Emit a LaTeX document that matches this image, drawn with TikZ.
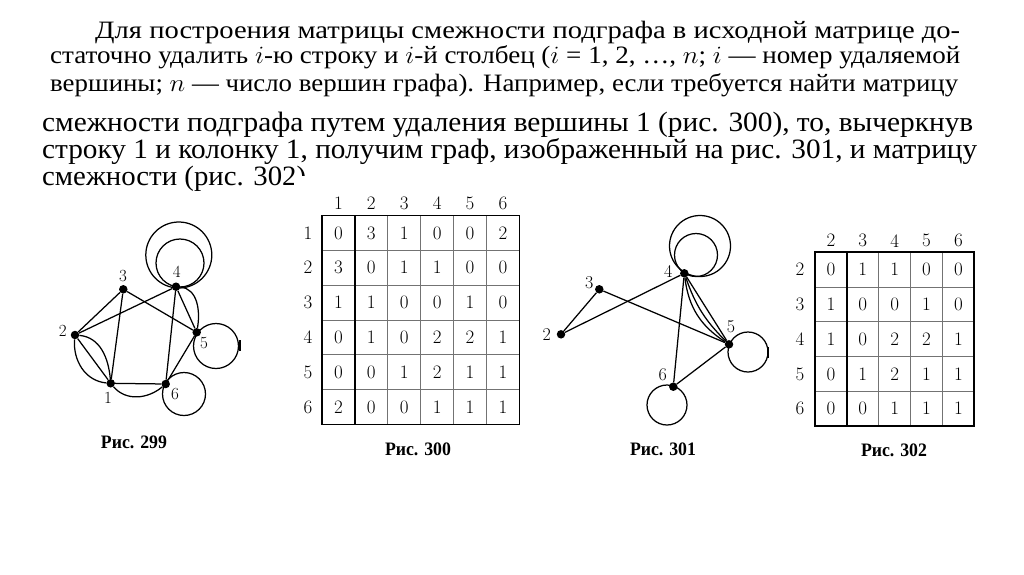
\documentclass[tikz,border=0pt]{standalone}
\usepackage{fontspec}
\usepackage{graphicx}
\newfontfamily\pa{Liberation Serif}
\newfontfamily\cf{Liberation Serif}
\tikzset{
  vtx/.style={circle,fill=black,inner sep=0pt,minimum size=8.5pt},
  edge/.style={line width=1.25pt},
  lbl/.style={font=\fontsize{17}{17}\selectfont,inner sep=0pt},
  lblb/.style={font=\fontsize{18}{18}\selectfont,inner sep=0pt},
  cell/.style={font=\fontsize{19}{19}\selectfont,inner sep=0pt},
  figcap/.style={inner sep=0pt},
  txt/.style={anchor=base west,inner sep=0pt},
  thickrule/.style={line width=1.8pt},
  thinrule/.style={line width=0.7pt,black!55},
}
\newcommand{\capt}[1]{\resizebox{66pt}{\height}{\cf\bfseries\fontsize{19}{19}\selectfont #1}}
\begin{document}
\begin{tikzpicture}[x=1pt,y=1pt]
\useasboundingbox (0,0) rectangle (1024,-574);
\fill[white] (0,0) rectangle (1024,-574);

% ---- text ----
\node[txt] (l1) at (95,-38) {\resizebox{865pt}{\height}{\pa\fontsize{25}{25}\selectfont Для построения матрицы смежности подграфа в исходной матрице до-}};
\node[txt] (l2) at (50,-63.5) {\resizebox{910pt}{\height}{\pa\fontsize{25}{25}\selectfont статочно удалить $i$-ю строку и $i$-й столбец ($i$ = 1, 2, …, $n$; $i$ — номер удаляемой}};
\node[txt] (l3) at (50,-91.5) {\resizebox{908pt}{\height}{\pa\fontsize{25}{25}\selectfont вершины; $n$ — число вершин графа). Например, если требуется найти матрицу}};
\node[txt] (l4) at (42,-131.5) {\resizebox{931pt}{\height}{\pa\fontsize{28}{28}\selectfont смежности подграфа путем удаления вершины 1 (рис. 300), то, вычеркнув}};
\node[txt] (l5) at (42,-158.5) {\resizebox{935pt}{\height}{\pa\fontsize{28}{28}\selectfont строку 1 и колонку 1, получим граф, изображенный на рис. 301, и матрицу}};
\node[txt] (l6) at (42,-185) {\resizebox{264pt}{\height}{\pa\fontsize{28}{28}\selectfont смежности (рис. 302)}};
\fill[white] (294,-176) rectangle (320,-196);

% ---- Fig 299 ----
\node[vtx] (a1) at (110.7,-383.3) {};
\node[vtx] (a2) at (75,-335) {};
\node[vtx] (a3) at (123.3,-289.3) {};
\node[vtx] (a4) at (176,-286.7) {};
\node[vtx] (a5) at (196.7,-332.3) {};
\node[vtx] (a6) at (165.7,-384) {};
\node[lbl] (la1) at (108,-398) {1};
\node[lbl] (la2) at (62.7,-331) {2};
\node[lbl] (la3) at (123,-276) {3};
\node[lbl] (la4) at (176.7,-272) {4};
\node[lbl] (la5) at (204,-343) {5};
\node[lbl] (la6) at (175,-394) {6};
\draw[edge] (a2) -- (a1);
\draw[edge] (a2) to[out=-95,in=175] (a1);
\draw[edge] (a2) to[out=-5,in=95] (a1);
\draw[edge] (a1) -- (a3);
\draw[edge] (a1) -- (a6);
\draw[edge] (a1) to[out=-50,in=-140] (a6);
\draw[edge] (a2) -- (a3);
\draw[edge] (a2) -- (a4);
\draw[edge] (a3) -- (a5);
\draw[edge] (a4) -- (a5);
\draw[edge] (a4) to[out=-5,in=80] (a5);
\draw[edge] (a4) -- (a6);
\draw[edge] (a5) -- (a6);
\draw[edge] (178.8,-255) circle (33);
\draw[edge] (180,-263) circle (24);
\draw[edge] (216,-346) circle (22.5);
\draw[edge] (184,-394) circle (21.5);
\draw[line width=1.5pt] (240,-340) -- (240,-351);
\node[figcap] (c299) at (134,-442) {\capt{Рис. 299}};

% ---- Fig 300 ----
\foreach \h [count=\c] in {1,...,6} {
  \node[cell] (h300c\c) at ({322+(\c-0.5)*32.9},-203.5) {\h};
  \node[cell] (h300r\c) at (308,{-215.5-(\c-0.5)*34.8}) {\h};
}
\foreach \row [count=\r] in {{0,3,1,0,0,2},{3,0,1,1,0,0},{1,1,0,0,1,0},{0,1,0,2,2,1},{0,0,1,2,1,1},{2,0,0,1,1,1}} {
  \foreach \v [count=\c] in \row {
    \node[cell] (m300-\r-\c) at ({322+(\c-0.5)*32.9},{-215.5-(\r-0.5)*34.8}) {\v};
  }
}
\foreach \i in {2,...,5} {
  \draw[thinrule] ({322+\i*32.9},-215.5) -- ({322+\i*32.9},-424.5);
}
\foreach \i in {1,...,5} {
  \draw[thinrule] (322,{-215.5-\i*34.8}) -- (519.4,{-215.5-\i*34.8});
}
\draw[thickrule] (354.9,-215.5) -- (354.9,-424.5);
\draw[thickrule] (322,-215.5) rectangle (519.4,-424.5);
\node[figcap] (c300) at (418,-449) {\capt{Рис. 300}};

% ---- Fig 301 ----
\node[vtx] (b2) at (561,-334.3) {};
\node[vtx] (b3) at (599.3,-289.3) {};
\node[vtx] (b4) at (684.3,-273.3) {};
\node[vtx] (b5) at (729,-344.3) {};
\node[vtx] (b6) at (673.3,-386.7) {};
\node[lblb] (lb2) at (546.7,-335) {2};
\node[lblb] (lb3) at (589.3,-282.7) {3};
\node[lblb] (lb4) at (668.3,-271.7) {4};
\node[lblb] (lb5) at (731,-326.7) {5};
\node[lblb] (lb6) at (662.7,-374.3) {6};
\draw[edge] (b2) -- (b3);
\draw[edge] (b2) -- (b4);
\draw[edge] (b3) -- (b5);
\draw[edge] (b4) -- (b5);
\draw[edge] (b4) to[bend right=13] (b5);
\draw[edge] (b4) to[bend right=25] (b5);
\draw[edge] (b4) -- (b6);
\draw[edge] (b5) -- (b6);
\draw[edge] (700,-246) circle (30.5);
\draw[edge] (696,-255) circle (21.5);
\draw[edge] (748,-352) circle (20);
\draw[edge] (667,-405) circle (20);
\draw[line width=1.5pt] (768,-347) -- (768,-358);
\node[figcap] (c301) at (663,-449) {\capt{Рис. 301}};

% ---- Fig 302 ----
\foreach \h [count=\c] in {2,...,6} {
  \node[cell] (h302c\c) at ({815+(\c-0.5)*31.86},-240.7) {\h};
  \node[cell] (h302r\c) at (800,{-252.3-(\c-0.5)*34.74}) {\h};
}
\foreach \row [count=\r] in {{0,1,1,0,0},{1,0,0,1,0},{1,0,2,2,1},{0,1,2,1,1},{0,0,1,1,1}} {
  \foreach \v [count=\c] in \row {
    \node[cell] (m302-\r-\c) at ({815+(\c-0.5)*31.86},{-252.3-(\r-0.5)*34.74}) {\v};
  }
}
\foreach \i in {2,...,4} {
  \draw[thinrule] ({815+\i*31.86},-252.3) -- ({815+\i*31.86},-426);
}
\foreach \i in {1,...,4} {
  \draw[thinrule] (815,{-252.3-\i*34.74}) -- (974.3,{-252.3-\i*34.74});
}
\draw[thickrule] (846.86,-252.3) -- (846.86,-426);
\draw[thickrule] (815,-252.3) rectangle (974.3,-426);
\node[figcap] (c302) at (894,-450) {\capt{Рис. 302}};
\end{tikzpicture}
\end{document}
